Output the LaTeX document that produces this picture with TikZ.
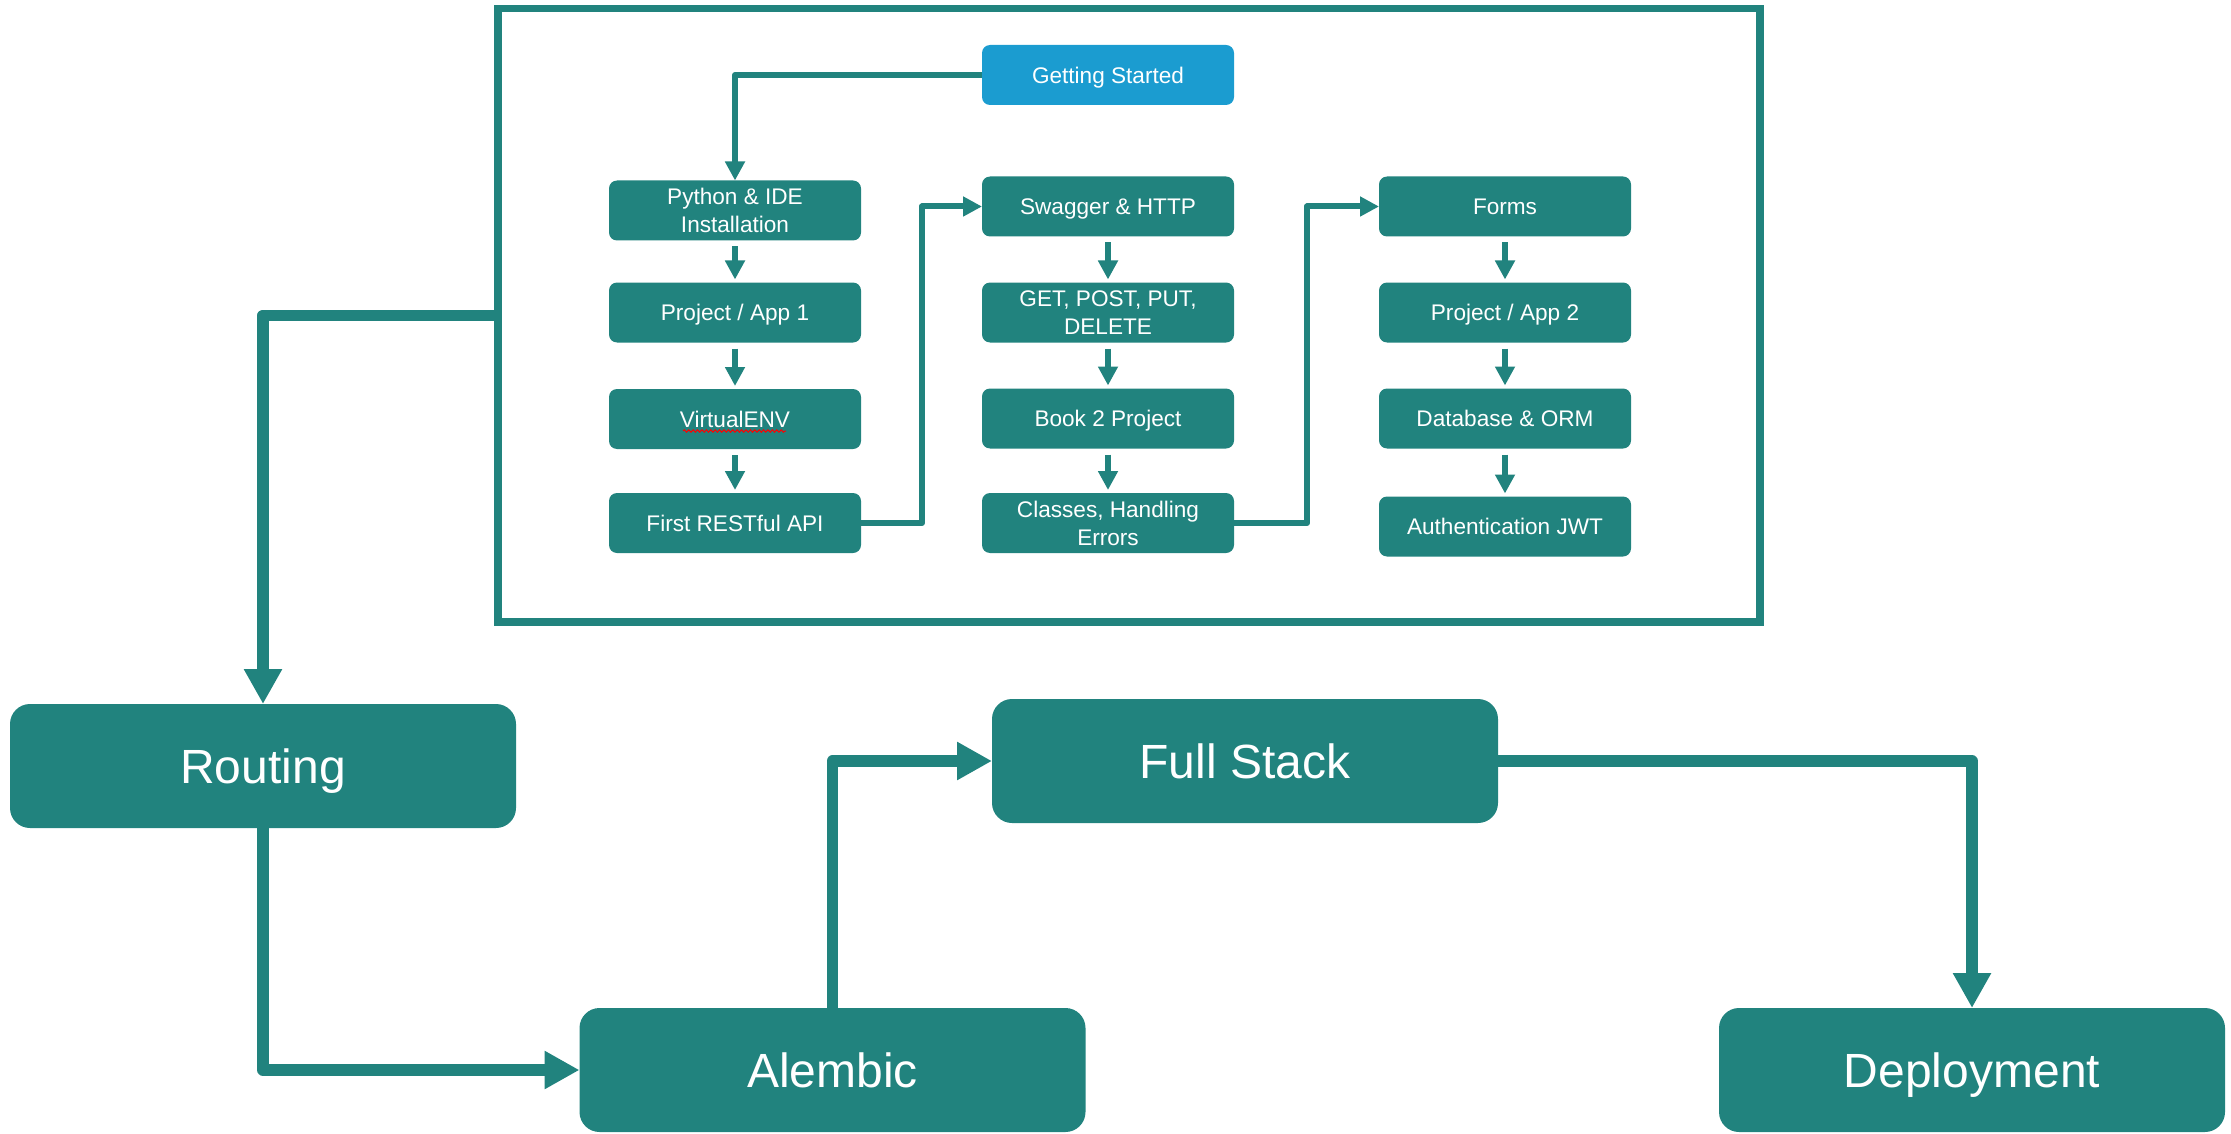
\documentclass[tikz,border=0pt]{standalone}
\usepackage{fontspec}
\setmainfont{Liberation Sans}
\usetikzlibrary{arrows.meta,decorations.pathmorphing}
\definecolor{tealc}{HTML}{21837E}
\definecolor{bluec}{HTML}{1B9CD0}
\begin{document}
\begin{tikzpicture}[x=0.5pt,y=-0.5pt,
  smallbox/.style={rectangle, rounded corners=4pt, fill=tealc, text=white,
    minimum width=126pt, minimum height=30pt, inner sep=0pt, outer sep=0pt,
    align=center, font=\fontsize{11.3}{14}\selectfont},
  oneline/.style={smallbox, text height=8.1pt, text depth=0pt},
  bigbox/.style={rectangle, rounded corners=10pt, fill=tealc, text=white,
    minimum width=253pt, minimum height=62pt, inner sep=0pt, outer sep=0pt,
    text height=17.2pt, text depth=0pt,
    font=\fontsize{24}{28}\selectfont},
  sarrow/.style={draw=tealc, line width=3pt, line join=round,
    -{Triangle[width=9.5pt,length=9.5pt]}},
  varrow/.style={sarrow, shorten <=3pt, shorten >=1.5pt},
  barrow/.style={draw=tealc, line width=5.75pt, line join=round,
    -{Triangle[width=18pt,length=17.5pt]}},
]
\useasboundingbox (0,0) rectangle (2231,1134);

% frame
\node[draw=tealc, line width=3.75pt, minimum width=631pt, minimum height=306.75pt,
      inner sep=0pt, outer sep=0pt] (frame) at (1129,315.25) {};

% small boxes
\node[oneline, fill=bluec] (gs) at (1108,75) {Getting Started};

\node[smallbox] (python)  at (735,210.5) {Python \& IDE\\Installation};
\node[oneline]  (proj1)   at (735,312.5) {Project / App 1};
\node[oneline]  (venv)    at (735,419)   {VirtualENV};
\node[oneline]  (restful) at (735,523)   {First RESTful API};

\node[oneline]  (swagger) at (1108,206.5) {Swagger \& HTTP};
\node[smallbox] (get)     at (1108,312.5) {GET, POST, PUT,\\DELETE};
\node[oneline]  (book)    at (1108,418.5) {Book 2 Project};
\node[smallbox] (classes) at (1108,523)   {Classes, Handling\\Errors};

\node[oneline]  (forms)   at (1505,206.5) {Forms};
\node[oneline]  (proj2)   at (1505,312.5) {Project / App 2};
\node[oneline]  (db)      at (1505,418.5) {Database \& ORM};
\node[oneline]  (auth)    at (1505,526.5) {Authentication JWT};

% spell-check squiggle under VirtualENV
\draw[red, line width=0.5pt, decorate, decoration={snake, amplitude=0.6pt, segment length=2.2pt}]
  (683,431) -- (786,431);

% big boxes
\node[bigbox] (routing)   at (263,766)    {Routing};
\node[bigbox] (alembic)   at (832.5,1070) {Alembic};
\node[bigbox] (fullstack) at (1245,761)   {Full Stack};
\node[bigbox] (deploy)    at (1972,1070)  {Deployment};

% small connectors
\draw[sarrow] (gs.west) -| (python.north);
\draw[varrow] (python.south) -- (proj1.north);
\draw[varrow] (proj1.south) -- (venv.north);
\draw[varrow] (venv.south) -- (restful.north);
\draw[sarrow] (restful.east) -- ++(61,0) |- (swagger.west);
\draw[varrow] (swagger.south) -- (get.north);
\draw[varrow] (get.south) -- (book.north);
\draw[varrow] (book.south) -- (classes.north);
\draw[sarrow] (classes.east) -- ++(73,0) |- (forms.west);
\draw[varrow] (forms.south) -- (proj2.north);
\draw[varrow] (proj2.south) -- (db.north);
\draw[varrow] (db.south) -- (auth.north);

% big connectors
\draw[barrow] (frame.west) -| (routing.north);
\draw[barrow] (routing.south) |- (alembic.west);
\draw[barrow] (alembic.north) |- (fullstack.west);
\draw[barrow] (fullstack.east) -| (deploy.north);
\end{tikzpicture}
\end{document}
